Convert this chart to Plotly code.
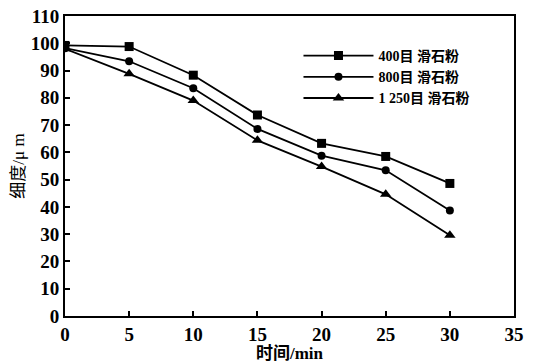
import plotly.graph_objects as go

time_min = [0, 5, 10, 15, 20, 25, 30]
fineness_400 = [99.2, 98.8, 88.3, 73.7, 63.3, 58.5, 48.6]
fineness_800 = [98.2, 93.4, 83.5, 68.6, 58.8, 53.4, 38.7]
fineness_1250 = [98.0, 88.8, 79.0, 64.4, 54.8, 44.6, 29.6]
series_names = ["400目 滑石粉", "800目 滑石粉", "1 250目 滑石粉"]
x_ticks = [0, 5, 10, 15, 20, 25, 30, 35]
y_ticks = [0, 10, 20, 30, 40, 50, 60, 70, 80, 90, 100, 110]

FONT = "Liberation Serif, Noto Sans CJK SC, serif"

fig = go.Figure()
for name, ys, sym, sz in zip(series_names,
                             [fineness_400, fineness_800, fineness_1250],
                             ["square", "circle", "triangle-up"],
                             [9, 8, 10]):
    fig.add_trace(go.Scatter(
        x=time_min, y=ys, name=name, mode="lines+markers",
        line=dict(color="black", width=1.8),
        marker=dict(symbol=sym, size=sz, color="black"),
    ))

axis_common = dict(
    showline=True, linecolor="black", linewidth=2, mirror=True,
    ticks="inside", ticklen=5, tickwidth=2, tickcolor="black",
    showgrid=False, zeroline=False, automargin=False,
    ticklabeloverflow="allow",
    tickfont=dict(family=FONT, size=19, color="black", weight="bold"),
)

fig.update_xaxes(range=[0, 35], tickvals=x_ticks,
                 title=dict(text="时间/min", font=dict(family=FONT, size=17, color="black", weight="bold"), standoff=0),
                 **axis_common)
fig.update_yaxes(range=[0, 110], tickvals=y_ticks,
                 title=dict(text="细度/μ m", font=dict(family=FONT, size=17, color="black"), standoff=2),
                 **axis_common)

fig.update_layout(
    width=533, height=363,
    margin=dict(l=65, r=19, t=16, b=47),
    paper_bgcolor="white", plot_bgcolor="white",
    font=dict(family=FONT, color="black"),
    legend=dict(x=0.52, y=0.92, xanchor="left", yanchor="top",
                bgcolor="rgba(0,0,0,0)", itemwidth=70,
                font=dict(family=FONT, size=14, color="black", weight="bold"),
                tracegroupgap=0),
    showlegend=True,
)

fig.write_html("out.html", config={"displayModeBar": False},
               post_script="document.body.style.margin='0';")
